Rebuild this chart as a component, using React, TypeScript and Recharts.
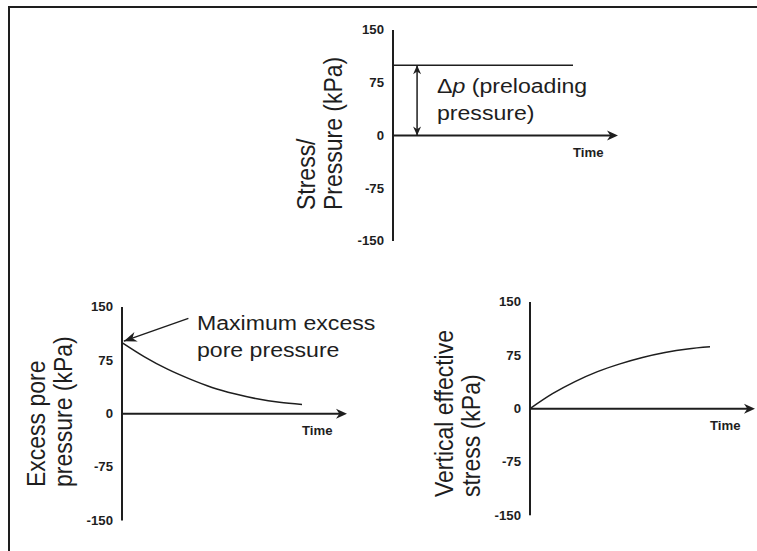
import React from "react";
import { Line, LineChart, ReferenceLine, XAxis, YAxis } from "recharts";

// time steps along each horizontal axis (0 .. 8, axis drawn to 10)
const timeSteps = [0, 1, 2, 3, 4, 5, 6, 7, 8];
const stressTicks = [-150, -75, 0, 75, 150];

// kPa values at each time step
const preloadPressure = [100, 100, 100, 100, 100, 100, 100, 100, 100];
const excessPorePressure = [100, 80, 63, 49, 37, 28, 21, 16, 13];
const effectiveStress = [0, 21, 38, 52, 63, 72, 79, 84, 87];

const INK = "#1e1e1e";
const FONT = "'Liberation Sans', Arial, sans-serif";
// the lettering is set slightly wide
const WIDE = 1.1;

const toRows = (values: number[]) => timeSteps.map((t, i) => ({ t, v: values[i] }));

function head(tipX: number, tipY: number, fromX: number, fromY: number, len = 10, half = 4) {
  const dx = tipX - fromX;
  const dy = tipY - fromY;
  const d = Math.hypot(dx, dy) || 1;
  const ux = dx / d;
  const uy = dy / d;
  const bx = tipX - ux * len;
  const by = tipY - uy * len;
  const mx = tipX - ux * len * 0.7;
  const my = tipY - uy * len * 0.7;
  return `M${tipX},${tipY} L${bx - uy * half},${by + ux * half} L${mx},${my} L${bx + uy * half},${by - ux * half} Z`;
}

const StressTick = (p: any) => (
  <text
    transform={`translate(${p.x},${p.y}) scale(${WIDE},1)`}
    textAnchor="end"
    dy="0.36em"
    fontSize={12}
    fontWeight="bold"
    fill={INK}
    fontFamily={FONT}
  >
    {p.payload.value}
  </text>
);

// horizontal time axis through zero, with arrowhead and "Time" caption
const TimeAxis = (p: any) => {
  const { x1, y1, x2 } = p;
  return (
    <g>
      <line x1={x1} y1={y1} x2={x2 - 6} y2={y1} stroke={INK} strokeWidth={2} />
      <path d={head(x2, y1, x1, y1, 11, 5)} fill={INK} />
      <text
        transform={`translate(${x2 - 45},${y1 + 21}) scale(${WIDE},1)`}
        fontSize={12}
        fontWeight="bold"
        fill={INK}
        fontFamily={FONT}
      >
        Time
      </text>
    </g>
  );
};

const DoubleArrow = (p: any) => {
  const { x1, y1, x2, y2 } = p;
  return (
    <g>
      <line x1={x1} y1={y1} x2={x2} y2={y2} stroke={INK} strokeWidth={1.5} />
      <path d={head(x1, y1, x2, y2, 9, 4)} fill={INK} />
      <path d={head(x2, y2, x1, y1, 9, 4)} fill={INK} />
    </g>
  );
};

const PointerArrow = (p: any) => {
  const { x1, y1, x2, y2 } = p;
  return (
    <g>
      <line x1={x1} y1={y1} x2={x2} y2={y2} stroke={INK} strokeWidth={1.5} />
      <path d={head(x2, y2, x1, y1, 13, 5)} fill={INK} />
    </g>
  );
};

type PanelProps = {
  left: number;
  top: number;
  plotHeight: number;
  rightPad?: number;
  children: React.ReactNode;
};

function Panel({ left, top, plotHeight, rightPad = 10, children }: PanelProps) {
  const axisWidth = 40;
  const plotWidth = 225;
  return (
    <div style={{ position: "absolute", left: left - axisWidth, top: top - 10 }}>
      <LineChart
        width={axisWidth + plotWidth + rightPad}
        height={plotHeight + 20}
        margin={{ top: 10, right: rightPad, bottom: 10, left: 0 }}
      >
        <XAxis type="number" dataKey="t" domain={[0, 10]} hide allowDuplicatedCategory={false} />
        <YAxis
          type="number"
          domain={[-150, 150]}
          ticks={stressTicks}
          width={axisWidth}
          tickLine={false}
          tickSize={7}
          axisLine={{ stroke: INK, strokeWidth: 2 }}
          tick={StressTick}
          interval={0}
        />
        <ReferenceLine y={0} shape={TimeAxis} />
        {children}
      </LineChart>
    </div>
  );
}

// text placed at (x, y) and widened like the rest of the lettering
const Wide = ({ x, y, rotate, children }: { x: number; y: number; rotate?: boolean; children: React.ReactNode }) => (
  <text transform={`translate(${x},${y}) scale(${WIDE},1)${rotate ? " rotate(-90)" : ""}`}>{children}</text>
);

export default function App() {
  return (
    <div
      style={{
        position: "absolute",
        left: 0,
        top: 0,
        width: 757,
        height: 551,
        background: "#fff",
        overflow: "hidden",
        fontFamily: FONT,
      }}
    >
      <div
        style={{
          position: "absolute",
          left: 8,
          top: 6,
          width: 760,
          height: 560,
          borderTop: `2px solid ${INK}`,
          borderLeft: `2px solid ${INK}`,
        }}
      />

      {/* applied preload */}
      <Panel left={393} top={30} plotHeight={211}>
        <Line
          data={toRows(preloadPressure)}
          dataKey="v"
          stroke={INK}
          strokeWidth={1.5}
          dot={false}
          isAnimationActive={false}
        />
        <ReferenceLine
          segment={[
            { x: 1.07, y: 0 },
            { x: 1.07, y: 100 },
          ]}
          shape={DoubleArrow}
        />
      </Panel>

      {/* excess pore pressure dissipation */}
      <Panel left={122} top={306.5} plotHeight={213.5}>
        <Line
          data={toRows(excessPorePressure)}
          dataKey="v"
          type="monotone"
          stroke={INK}
          strokeWidth={1.5}
          dot={false}
          isAnimationActive={false}
        />
        <ReferenceLine
          segment={[
            { x: 2.95, y: 134 },
            { x: 0.08, y: 102 },
          ]}
          shape={PointerArrow}
        />
      </Panel>

      {/* effective stress gain */}
      <Panel left={530} top={301.7} plotHeight={213.3} rightPad={2}>
        <Line
          data={toRows(effectiveStress)}
          dataKey="v"
          type="monotone"
          stroke={INK}
          strokeWidth={1.5}
          dot={false}
          isAnimationActive={false}
        />
      </Panel>

      <svg
        width={757}
        height={551}
        style={{ position: "absolute", left: 0, top: 0, pointerEvents: "none" }}
        fontFamily={FONT}
        fill={INK}
      >
        <defs>
          <clipPath id="noteClip">
            <rect x={0} y={0} width={377} height={551} />
          </clipPath>
        </defs>

        <g fontSize={23}>
          <Wide x={315} y={210} rotate>Stress/</Wide>
          <Wide x={342} y={210} rotate>Pressure (kPa)</Wide>
          <Wide x={45} y={487} rotate>Excess pore</Wide>
          <Wide x={72} y={487} rotate>pressure (kPa)</Wide>
          <Wide x={453} y={497} rotate>Vertical effective</Wide>
          <Wide x={480} y={497} rotate>stress (kPa)</Wide>
        </g>

        <g fontSize={21}>
          <Wide x={437} y={93}>
            <tspan>Δ</tspan>
            <tspan fontStyle="italic">p</tspan>
            <tspan> (preloading</tspan>
          </Wide>
          <Wide x={437} y={120}>pressure)</Wide>

          <g clipPath="url(#noteClip)">
            <Wide x={197} y={330}>Maximum excess</Wide>
            <Wide x={197} y={357}>pore pressure</Wide>
          </g>
        </g>
      </svg>
    </div>
  );
}
